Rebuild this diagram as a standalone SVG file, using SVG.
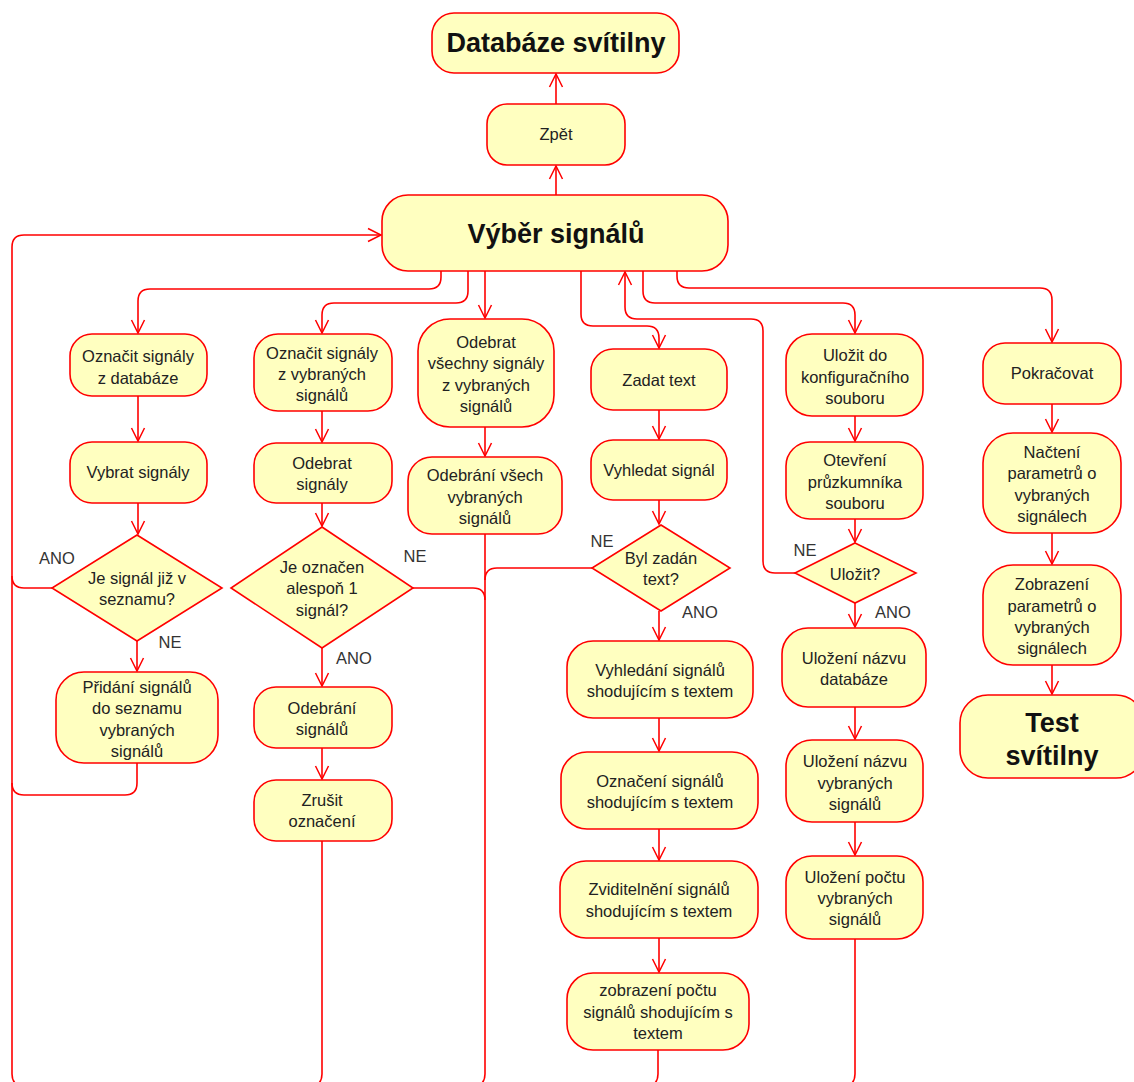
<svg xmlns="http://www.w3.org/2000/svg" width="1134" height="1082" viewBox="0 0 1134 1082">
  <defs>
    <marker id="arr" markerUnits="userSpaceOnUse" markerWidth="16" markerHeight="16" refX="0" refY="0" viewBox="-14 -8 16 16" orient="auto">
      <path d="M-13,-6.5 L0,0 L-13,6.5" fill="none" stroke="#ff0000" stroke-width="1.5"/>
    </marker>
    <style>
      .n { fill: #ffffc0; stroke: #ff0000; stroke-width: 1.6; }
      .c { fill: none; stroke: #ff0000; stroke-width: 1.6; }
      .a { marker-end: url(#arr); }
      .t { font-family: "Liberation Sans", Arial, sans-serif; font-size: 16.5px; fill: #222; text-anchor: middle; }
      .b { font-family: "Liberation Sans", Arial, sans-serif; font-size: 27px; font-weight: bold; fill: #111; text-anchor: middle; }
      .l { font-family: "Liberation Sans", Arial, sans-serif; font-size: 16.5px; fill: #333; text-anchor: middle; }
    </style>
  </defs>
  <rect width="1134" height="1082" fill="#ffffff"/>

  <!-- connectors -->
  <g id="connectors">
    <path class="c a" d="M556,195 V166"/>
    <path class="c a" d="M556,104 V74"/>
    <!-- main return loop along the left and bottom edges -->
    <path class="c a" d="M855,939 V1074 Q855,1086 843,1086 H24 Q12,1086 12,1074 V247 Q12,235 24,235 H381"/>
    <path class="c" d="M322,841 V1074 Q322,1086 310,1086"/>
    <path class="c" d="M485,534 V1074 Q485,1086 473,1086"/>
    <path class="c" d="M658,1050 V1074 Q658,1086 646,1086"/>

    <!-- branches leaving Výběr signálů -->
    <path class="c a" d="M441,271 V277 Q441,289 429,289 H150 Q138,289 138,301 V333"/>
    <path class="c a" d="M468,271 V291 Q468,303 456,303 H334 Q322,303 322,315 V333"/>
    <path class="c a" d="M485,271 V318"/>
    <path class="c a" d="M581,271 V314 Q581,326 593,326 H647 Q659,326 659,338 V348"/>
    <path class="c a" d="M643,271 V291 Q643,303 655,303 H843 Q855,303 855,315 V333"/>
    <path class="c a" d="M677,271 V276 Q677,288 689,288 H1040 Q1052,288 1052,300 V342"/>
    <!-- Uložit? NE returns to Výběr signálů -->
    <path class="c a" d="M795,573 H775 Q763,573 763,561 V331 Q763,319 751,319 H637 Q625,319 625,307 V272"/>

    <!-- column 1 -->
    <path class="c a" d="M138,396 V441"/>
    <path class="c a" d="M138,503 V534"/>
    <path class="c" d="M52,588 H24 Q12,588 12,576"/>
    <path class="c a" d="M137,641 V671"/>
    <path class="c" d="M137,763 V783 Q137,795 125,795 H24 Q12,795 12,783"/>

    <!-- column 2 -->
    <path class="c a" d="M322,411 V442"/>
    <path class="c a" d="M322,503 V526"/>
    <path class="c" d="M413,588 H473 Q485,588 485,600"/>
    <path class="c a" d="M322,648 V686"/>
    <path class="c a" d="M322,748 V779"/>

    <!-- column 3 -->
    <path class="c a" d="M485,427 V456"/>
    <path class="c" d="M593,568 H497 Q485,568 485,580"/>

    <!-- column 4 -->
    <path class="c a" d="M659,410 V439"/>
    <path class="c a" d="M659,500 V524"/>
    <path class="c a" d="M659,611 V640"/>
    <path class="c a" d="M659,718 V751"/>
    <path class="c a" d="M659,829 V860"/>
    <path class="c a" d="M659,938 V972"/>

    <!-- column 5 -->
    <path class="c a" d="M855,416 V441"/>
    <path class="c a" d="M855,519 V542"/>
    <path class="c a" d="M855,603 V627"/>
    <path class="c a" d="M855,707 V739"/>
    <path class="c a" d="M855,822 V855"/>

    <!-- column 6 -->
    <path class="c a" d="M1052,404 V432"/>
    <path class="c a" d="M1052,533 V564"/>
    <path class="c a" d="M1052,665 V694"/>
  </g>

  <!-- branch labels -->
  <g id="labels">
    <text class="l" x="57" y="564">ANO</text>
    <text class="l" x="170" y="648">NE</text>
    <text class="l" x="415" y="562">NE</text>
    <text class="l" x="354" y="664">ANO</text>
    <text class="l" x="602" y="547">NE</text>
    <text class="l" x="700" y="618">ANO</text>
    <text class="l" x="805" y="556">NE</text>
    <text class="l" x="893" y="618">ANO</text>
  </g>

  <g id="databaze-svitilny">
    <rect class="n" x="432" y="13" width="247" height="60" rx="22"/>
    <text class="b" x="556" y="52">Databáze svítilny</text>
  </g>
  <g id="zpet">
    <rect class="n" x="487" y="104" width="138" height="61" rx="20"/>
    <text class="t" x="556" y="140">Zpět</text>
  </g>
  <g id="vyber-signalu">
    <rect class="n" x="382" y="195" width="346" height="76" rx="26"/>
    <text class="b" x="556" y="243">Výběr signálů</text>
  </g>

  <!-- column 1 -->
  <g id="oznacit-z-databaze">
    <rect class="n" x="70" y="334" width="137" height="62" rx="22"/>
    <text class="t" x="138" y="362">Označit signály</text>
    <text class="t" x="138" y="384">z databáze</text>
  </g>
  <g id="vybrat-signaly">
    <rect class="n" x="70" y="442" width="137" height="61" rx="22"/>
    <text class="t" x="138" y="478">Vybrat signály</text>
  </g>
  <g id="je-signal-v-seznamu">
    <polygon class="n" points="137,535 222,588 137,641 52,588"/>
    <text class="t" x="137" y="584">Je signál již v</text>
    <text class="t" x="137" y="605">seznamu?</text>
  </g>
  <g id="pridani-signalu">
    <rect class="n" x="56" y="672" width="162" height="91" rx="28"/>
    <text class="t" x="137" y="693">Přidání signálů</text>
    <text class="t" x="137" y="714">do seznamu</text>
    <text class="t" x="137" y="736">vybraných</text>
    <text class="t" x="137" y="757">signálů</text>
  </g>

  <!-- column 2 -->
  <g id="oznacit-z-vybranych">
    <rect class="n" x="254" y="334" width="138" height="77" rx="24"/>
    <text class="t" x="322" y="359">Označit signály</text>
    <text class="t" x="322" y="380">z vybraných</text>
    <text class="t" x="322" y="401">signálů</text>
  </g>
  <g id="odebrat-signaly">
    <rect class="n" x="254" y="443" width="138" height="60" rx="22"/>
    <text class="t" x="322" y="469">Odebrat</text>
    <text class="t" x="322" y="490">signály</text>
  </g>
  <g id="je-oznacen">
    <polygon class="n" points="322,527 413,588 322,648 231,588"/>
    <text class="t" x="322" y="573">Je označen</text>
    <text class="t" x="322" y="594">alespoň 1</text>
    <text class="t" x="322" y="616">signál?</text>
  </g>
  <g id="odebrani-signalu">
    <rect class="n" x="254" y="687" width="138" height="61" rx="22"/>
    <text class="t" x="322" y="714">Odebrání</text>
    <text class="t" x="322" y="735">signálů</text>
  </g>
  <g id="zrusit-oznaceni">
    <rect class="n" x="254" y="780" width="138" height="61" rx="22"/>
    <text class="t" x="322" y="806">Zrušit</text>
    <text class="t" x="322" y="827">označení</text>
  </g>

  <!-- column 3 -->
  <g id="odebrat-vsechny">
    <rect class="n" x="418" y="319" width="136" height="108" rx="32"/>
    <text class="t" x="486" y="348">Odebrat</text>
    <text class="t" x="486" y="369">všechny signály</text>
    <text class="t" x="486" y="391">z vybraných</text>
    <text class="t" x="486" y="412">signálů</text>
  </g>
  <g id="odebrani-vsech">
    <rect class="n" x="408" y="457" width="154" height="77" rx="24"/>
    <text class="t" x="485" y="481">Odebrání všech</text>
    <text class="t" x="485" y="503">vybraných</text>
    <text class="t" x="485" y="524">signálů</text>
  </g>

  <!-- column 4 -->
  <g id="zadat-text">
    <rect class="n" x="591" y="349" width="136" height="61" rx="22"/>
    <text class="t" x="659" y="386">Zadat text</text>
  </g>
  <g id="vyhledat-signal">
    <rect class="n" x="591" y="440" width="136" height="60" rx="22"/>
    <text class="t" x="659" y="476">Vyhledat signál</text>
  </g>
  <g id="byl-zadan-text">
    <polygon class="n" points="661,525 730,568 661,611 592,568"/>
    <text class="t" x="661" y="564">Byl zadán</text>
    <text class="t" x="661" y="585">text?</text>
  </g>
  <g id="vyhledani-signalu">
    <rect class="n" x="567" y="641" width="186" height="77" rx="26"/>
    <text class="t" x="660" y="676">Vyhledání signálů</text>
    <text class="t" x="660" y="697">shodujícím s textem</text>
  </g>
  <g id="oznaceni-signalu">
    <rect class="n" x="561" y="752" width="197" height="77" rx="26"/>
    <text class="t" x="660" y="787">Označení signálů</text>
    <text class="t" x="660" y="808">shodujícím s textem</text>
  </g>
  <g id="zviditelneni-signalu">
    <rect class="n" x="560" y="861" width="198" height="77" rx="26"/>
    <text class="t" x="659" y="895">Zviditelnění signálů</text>
    <text class="t" x="659" y="917">shodujícím s textem</text>
  </g>
  <g id="zobrazeni-poctu">
    <rect class="n" x="567" y="973" width="182" height="77" rx="26"/>
    <text class="t" x="658" y="996">zobrazení počtu</text>
    <text class="t" x="658" y="1018">signálů shodujícím s</text>
    <text class="t" x="658" y="1039">textem</text>
  </g>

  <!-- column 5 -->
  <g id="ulozit-do-konfigurace">
    <rect class="n" x="786" y="334" width="137" height="82" rx="26"/>
    <text class="t" x="855" y="361">Uložit do</text>
    <text class="t" x="855" y="383">konfiguračního</text>
    <text class="t" x="855" y="404">souboru</text>
  </g>
  <g id="otevreni-pruzkumnika">
    <rect class="n" x="786" y="442" width="137" height="77" rx="24"/>
    <text class="t" x="855" y="466">Otevření</text>
    <text class="t" x="855" y="488">průzkumníka</text>
    <text class="t" x="855" y="509">souboru</text>
  </g>
  <g id="ulozit">
    <polygon class="n" points="855,543 916,573 855,603 795,573"/>
    <text class="t" x="855" y="580">Uložit?</text>
  </g>
  <g id="ulozeni-nazvu-databaze">
    <rect class="n" x="782" y="628" width="144" height="79" rx="26"/>
    <text class="t" x="854" y="664">Uložení názvu</text>
    <text class="t" x="854" y="685">databáze</text>
  </g>
  <g id="ulozeni-nazvu-signalu">
    <rect class="n" x="786" y="740" width="137" height="82" rx="26"/>
    <text class="t" x="855" y="767">Uložení názvu</text>
    <text class="t" x="855" y="789">vybraných</text>
    <text class="t" x="855" y="810">signálů</text>
  </g>
  <g id="ulozeni-poctu">
    <rect class="n" x="786" y="856" width="137" height="83" rx="26"/>
    <text class="t" x="855" y="883">Uložení počtu</text>
    <text class="t" x="855" y="904">vybraných</text>
    <text class="t" x="855" y="925">signálů</text>
  </g>

  <!-- column 6 -->
  <g id="pokracovat">
    <rect class="n" x="983" y="343" width="138" height="61" rx="22"/>
    <text class="t" x="1052" y="379">Pokračovat</text>
  </g>
  <g id="nacteni-parametru">
    <rect class="n" x="983" y="433" width="138" height="100" rx="30"/>
    <text class="t" x="1052" y="458">Načtení</text>
    <text class="t" x="1052" y="479">parametrů o</text>
    <text class="t" x="1052" y="501">vybraných</text>
    <text class="t" x="1052" y="522">signálech</text>
  </g>
  <g id="zobrazeni-parametru">
    <rect class="n" x="983" y="565" width="138" height="100" rx="30"/>
    <text class="t" x="1052" y="590">Zobrazení</text>
    <text class="t" x="1052" y="612">parametrů o</text>
    <text class="t" x="1052" y="633">vybraných</text>
    <text class="t" x="1052" y="654">signálech</text>
  </g>
  <g id="test-svitilny">
    <rect class="n" x="960" y="695" width="184" height="83" rx="28"/>
    <text class="b" x="1052" y="732">Test</text>
    <text class="b" x="1052" y="765">svítilny</text>
  </g>
</svg>
